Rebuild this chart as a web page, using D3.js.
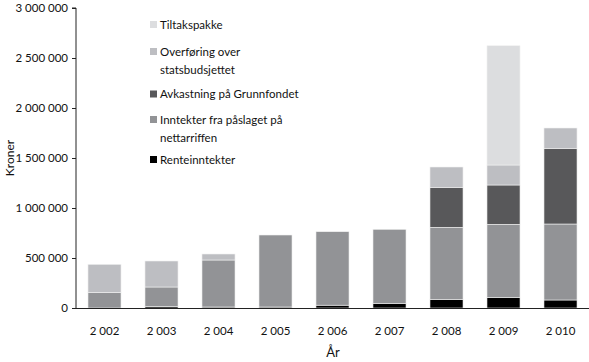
<!DOCTYPE html>
<meta charset="utf-8">
<style>
    body { margin: 0; background: #fff; }
    svg text { font-family: Lato, "Open Sans", sans-serif; fill: #111; }
</style>
<script src="https://d3js.org/d3.v7.min.js"></script>

<svg id="chart" width="589" height="362"></svg>
<script>

// Data (kroner per year)
var years = [2002, 2003, 2004, 2005, 2006, 2007, 2008, 2009, 2010];
var renteinntekter = [0, 15000, 10000, 10000, 28000, 47000, 87000, 103000, 80000];
var inntekter      = [155000, 195000, 470000, 720000, 735000, 740000, 720000, 734000, 760000];
var avkastning     = [0, 0, 0, 0, 0, 0, 400000, 393000, 757000];
var overforing     = [282000, 260000, 60000, 0, 0, 0, 203000, 200000, 203000];
var tiltakspakke   = [0, 0, 0, 0, 0, 0, 0, 1193000, 0];
var yTicks = [0, 500000, 1000000, 1500000, 2000000, 2500000, 3000000];

var seriesKeys = ["rente", "inntekter", "avkastning", "overforing", "tiltak"];
var colors = {
    rente: "#000000",
    inntekter: "#929396",
    avkastning: "#58585a",
    overforing: "#bdbec2",
    tiltak: "#dcdddf"
};
// legend, top to bottom
var legendItems = [
    { key: "tiltak", lines: ["Tiltakspakke"] },
    { key: "overforing", lines: ["Overføring over", "statsbudsjettet"] },
    { key: "avkastning", lines: ["Avkastning på Grunnfondet"] },
    { key: "inntekter", lines: ["Inntekter fra påslaget på", "nettarriffen"] },
    { key: "rente", lines: ["Renteinntekter"] }
];

var table = years.map(function(y, i) {
    return { year: y, rente: renteinntekter[i], inntekter: inntekter[i],
             avkastning: avkastning[i], overforing: overforing[i], tiltak: tiltakspakke[i] };
});

var svg = d3.select("#chart");
var margin = { left: 76, right: 0, top: 8, bottom: 54 };
var width = 589, height = 362;

var nb = d3.formatLocale({ decimal: ",", thousands: " ", grouping: [3], currency: ["", " kr"] });
var fmt = nb.format(",d");

var x = d3.scaleBand()
    .domain(years)
    .range([margin.left, width - margin.right])
    .paddingInner(0.42)
    .paddingOuter(0.21);

var y = d3.scaleLinear()
    .domain([0, 3000000])
    .range([height - margin.bottom, margin.top]);

var stacked = d3.stack().keys(seriesKeys)(table);

// bars
svg.append("g")
    .selectAll("g")
    .data(stacked)
    .enter().append("g")
        .attr("fill", function(d) { return colors[d.key]; })
    .selectAll("rect")
    .data(function(d) { return d.filter(function(s) { return s[1] - s[0] > 0; }); })
    .enter().append("rect")
        .attr("x", function(d) { return x(d.data.year); })
        .attr("width", x.bandwidth())
        .attr("y", function(d) { return y(d[1]); })
        .attr("height", function(d) { return y(d[0]) - y(d[1]); })
        .attr("stroke", "#f2f2f2")
        .attr("stroke-width", 0.6);

// y axis
var yAxis = svg.append("g")
    .attr("transform", "translate(" + margin.left + ",0)")
    .call(d3.axisLeft(y).tickValues(yTicks).tickFormat(fmt).tickSize(4).tickPadding(4));
yAxis.select(".domain").attr("stroke", "#222").attr("d", "M-4," + y(3000000) + "H0V" + y(0));
yAxis.selectAll("line").attr("stroke", "#222");
yAxis.selectAll("text").style("font-size", "11.5px").style("font-family", "Lato, sans-serif").attr("fill", "#111");

// x axis
var xAxis = svg.append("g")
    .attr("transform", "translate(0," + y(0) + ")")
    .call(d3.axisBottom(x).tickFormat(fmt).tickSize(0).tickPadding(19));
xAxis.select(".domain").attr("stroke", "#222").attr("d", "M" + (margin.left - 3) + ",0.5H" + width);
xAxis.selectAll("text").style("font-size", "11.5px").style("font-family", "Lato, sans-serif").attr("fill", "#111");

// axis titles
svg.append("text")
    .attr("x", 333).attr("y", 357)
    .attr("text-anchor", "middle")
    .style("font-size", "13px")
    .text("År");

svg.append("text")
    .attr("transform", "translate(14,158) rotate(-90)")
    .attr("text-anchor", "middle")
    .style("font-size", "12px")
    .text("Kroner");

// legend
var legendY = [24.5, 51.5, 94, 119.5, 159.5];
var lg = svg.append("g");
legendItems.forEach(function(item, i) {
    var cy = legendY[i];
    lg.append("rect")
        .attr("x", 150).attr("y", cy - 3.5)
        .attr("width", 7).attr("height", 7)
        .attr("fill", colors[item.key]);
    item.lines.forEach(function(line, j) {
        lg.append("text")
            .attr("x", 160).attr("y", cy + 4 + j * 18)
            .style("font-size", "11.5px")
            .text(line);
    });
});

</script>
